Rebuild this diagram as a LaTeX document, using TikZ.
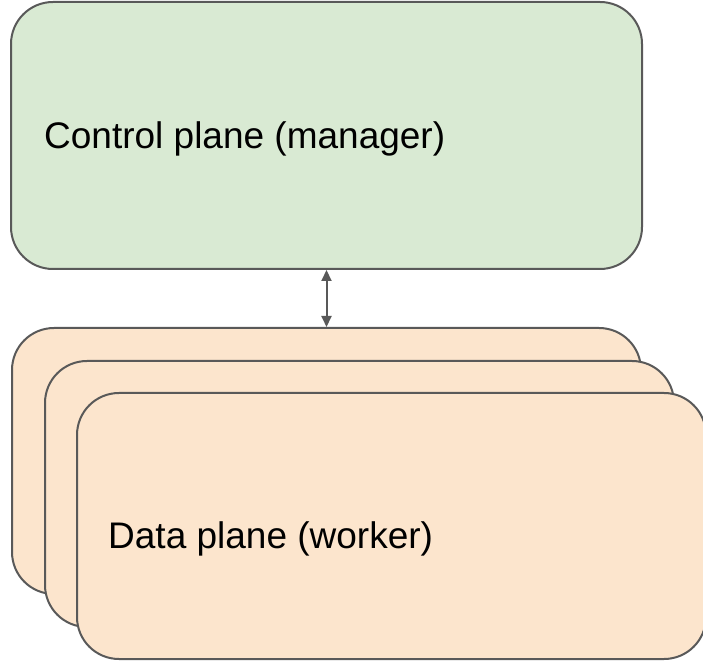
\documentclass[tikz,border=0pt]{standalone}
\usepackage{fontspec}
\setmainfont{Liberation Sans}
\usetikzlibrary{arrows.meta}
\definecolor{planegreen}{HTML}{D9EAD3}
\definecolor{planeorange}{HTML}{FCE5CD}
\definecolor{edgegray}{HTML}{595959}
\begin{document}
\begin{tikzpicture}[x=1pt,y=1pt,
  planebox/.style={draw=edgegray, line width=2pt, rounded corners=42pt, inner sep=0pt},
  label/.style={anchor=base west, inner sep=0pt, font=\fontsize{37}{44}\selectfont, text=black},
  link/.style={draw=edgegray, line width=2pt, {Triangle[length=11pt,width=10pt]}-{Triangle[length=11pt,width=10pt]}}]
\useasboundingbox (0,0) rectangle (703,661);
\clip (0,0) rectangle (703,661);
\node[planebox, fill=planegreen, minimum width=631pt, minimum height=267pt] (ctrl) at (326.5,525.5) {};
\node[planebox, fill=planeorange, minimum width=629pt, minimum height=266pt] (w1) at (326.5,200) {};
\node[planebox, fill=planeorange, minimum width=629pt, minimum height=266pt] (w2) at (359.5,167) {};
\node[planebox, fill=planeorange, minimum width=629pt, minimum height=266pt] (w3) at (391.5,135) {};
\node[label] (ctrltext) at (44,512) {Control plane (manager)};
\node[label] (datatext) at (108,113) {Data plane (worker)};
\draw[link] (ctrl.south) -- (w1.north);
\end{tikzpicture}
\end{document}
